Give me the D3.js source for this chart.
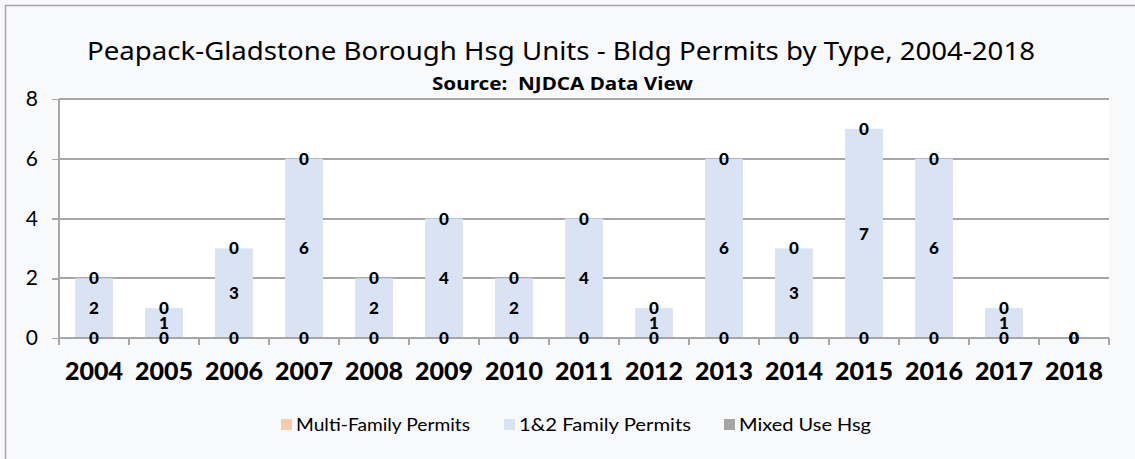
<!DOCTYPE html>
<html>
<head>
<meta charset="utf-8">
<title>Peapack-Gladstone Bldg Permits</title>
<script src="https://cdn.jsdelivr.net/npm/d3@7"></script>
<style>
    body { margin: 0; background: #f8f9fb; }
    svg { display: block; }
    .axis path, .axis line { stroke: #a6a6a6; stroke-width: 1.5; shape-rendering: crispEdges; }
    .grid line { stroke: #a6a6a6; stroke-width: 2; shape-rendering: crispEdges; }
</style>
</head>
<body>
<script>
    var years = ["2004", "2005", "2006", "2007", "2008", "2009", "2010", "2011", "2012", "2013", "2014", "2015", "2016", "2017", "2018"];
    var multiFamily = [0, 0, 0, 0, 0, 0, 0, 0, 0, 0, 0, 0, 0, 0, 0];
    var oneTwoFamily = [2, 1, 3, 6, 2, 4, 2, 4, 1, 6, 3, 7, 6, 1, 0];
    var mixedUse = [0, 0, 0, 0, 0, 0, 0, 0, 0, 0, 0, 0, 0, 0, 0];
    var seriesNames = ["Multi-Family Permits", "1&2 Family Permits", "Mixed Use Hsg"];
    var colors = ["#f8cbad", "#dae3f3", "#a5a5a5"];
    var yTicks = [0, 2, 4, 6, 8];

    var w = 1135, h = 459;
    var plotLeft = 59, plotRight = 1109, plotTop = 99, plotBottom = 338;

    var svg = d3.select("body").append("svg")
        .attr("width", w)
        .attr("height", h);

    // outer frame (only top/left edges are visible in the picture)
    svg.append("rect").attr("x", 0).attr("y", 0).attr("width", w).attr("height", h).attr("fill", "#f8f9fb");
    svg.append("path")
        .attr("d", "M5.5," + h + "V5.5H" + w)
        .attr("fill", "none")
        .attr("stroke", "#a6a6a6")
        .attr("stroke-width", 1.5);

    var xScale = d3.scaleBand().domain(years).range([plotLeft, plotRight]).paddingInner(0.46).paddingOuter(0.23);
    var yScale = d3.scaleLinear().domain([0, 8]).range([plotBottom, plotTop]);

    svg.append("rect")
        .attr("x", plotLeft).attr("y", plotTop)
        .attr("width", plotRight - plotLeft).attr("height", plotBottom - plotTop)
        .attr("fill", "#ffffff");

    // gridlines
    svg.append("g").attr("class", "grid")
        .selectAll("line")
        .data(yTicks.filter(function(d) { return d > 0; }))
        .enter().append("line")
        .attr("x1", plotLeft).attr("x2", plotRight)
        .attr("y1", function(d) { return yScale(d); })
        .attr("y2", function(d) { return yScale(d); });

    // stacked data
    var rows = years.map(function(y, i) {
        return { year: y, multi: multiFamily[i], one: oneTwoFamily[i], mixed: mixedUse[i] };
    });
    var keys = ["multi", "one", "mixed"];
    var stacked = d3.stack().keys(keys)(rows);

    svg.selectAll(".layer")
        .data(stacked)
        .enter().append("g")
        .attr("class", "layer")
        .attr("fill", function(d, i) { return colors[i]; })
        .selectAll("rect")
        .data(function(d) { return d; })
        .enter().append("rect")
        .attr("x", function(d) { return xScale(d.data.year); })
        .attr("width", xScale.bandwidth())
        .attr("y", function(d) { return yScale(d[1]); })
        .attr("height", function(d) { return yScale(d[0]) - yScale(d[1]); });

    // axes
    var xAxis = d3.axisBottom(xScale).tickSize(0).tickFormat("");
    svg.append("g").attr("class", "axis")
        .attr("transform", "translate(0," + plotBottom + ")")
        .call(xAxis)
        .call(function(g) { g.select(".domain").attr("d", "M" + plotLeft + ",0H" + plotRight); });

    // tick marks between categories
    var bounds = d3.range(years.length + 1).map(function(i) { return plotLeft + i * xScale.step(); });
    svg.append("g").attr("class", "axis")
        .selectAll("line")
        .data(bounds)
        .enter().append("line")
        .attr("x1", function(d) { return d; }).attr("x2", function(d) { return d; })
        .attr("y1", plotBottom).attr("y2", plotBottom + 7);

    var yAxis = d3.axisLeft(yScale).tickValues(yTicks).tickSize(7).tickPadding(14);
    var yg = svg.append("g").attr("class", "axis")
        .attr("transform", "translate(" + plotLeft + ",0)")
        .call(yAxis);
    yg.select(".domain").attr("d", "M0," + plotTop + "V" + plotBottom);
    yg.selectAll("text")
        .attr("font-family", "'Lato', sans-serif")
        .attr("font-size", "21px")
        .attr("fill", "#000");

    // category labels
    svg.append("g")
        .selectAll("text")
        .data(years)
        .enter().append("text")
        .attr("x", function(d) { return xScale(d) + xScale.bandwidth() / 2; })
        .attr("y", 380)
        .attr("text-anchor", "middle")
        .attr("font-family", "'Lato', sans-serif")
        .attr("font-weight", "900")
        .attr("font-size", "25px")
        .attr("fill", "#000")
        .text(function(d) { return d; });

    // data labels, centred on each stack segment (drawn over the axis)
    svg.selectAll(".labels")
        .data(stacked)
        .enter().append("g")
        .attr("class", "labels")
        .selectAll("text")
        .data(function(d) { return d; })
        .enter().append("text")
        .attr("x", function(d) { return xScale(d.data.year) + xScale.bandwidth() / 2; })
        .attr("y", function(d) { return yScale((d[0] + d[1]) / 2); })
        .attr("dy", "0.36em")
        .attr("text-anchor", "middle")
        .attr("font-family", "'Lato', sans-serif")
        .attr("font-weight", "900")
        .attr("font-size", "17px")
        .attr("fill", "#000")
        .text(function(d) { return d[1] - d[0]; });

    // titles
    svg.append("text")
        .attr("x", 87).attr("y", 60)
        .attr("textLength", 948)
        .attr("lengthAdjust", "spacingAndGlyphs")
        .attr("font-family", "'Noto Sans', sans-serif")
        .attr("font-size", "25px")
        .attr("fill", "#000")
        .text("Peapack-Gladstone Borough Hsg Units - Bldg Permits by Type, 2004-2018");
    svg.append("text")
        .attr("x", 432).attr("y", 90)
        .attr("textLength", 261)
        .attr("lengthAdjust", "spacingAndGlyphs")
        .attr("font-family", "'Noto Sans', sans-serif")
        .attr("font-weight", "bold")
        .attr("font-size", "17px")
        .attr("fill", "#000")
        .attr("xml:space", "preserve")
        .text("Source:  NJDCA Data View");

    // legend
    var legendX = [281, 504, 724];
    var legendW = [174, 172, 132];
    var legend = svg.append("g").selectAll("g")
        .data(seriesNames)
        .enter().append("g")
        .attr("transform", function(d, i) { return "translate(" + legendX[i] + ",419)"; });
    legend.append("rect")
        .attr("width", 11).attr("height", 11)
        .attr("fill", function(d, i) { return colors[i]; });
    legend.append("text")
        .attr("x", 15).attr("y", 12)
        .attr("textLength", function(d, i) { return legendW[i]; })
        .attr("lengthAdjust", "spacingAndGlyphs")
        .attr("font-family", "'Lato', sans-serif")
        .attr("font-size", "17px")
        .attr("fill", "#000")
        .text(function(d) { return d; });
</script>
</body>
</html>
